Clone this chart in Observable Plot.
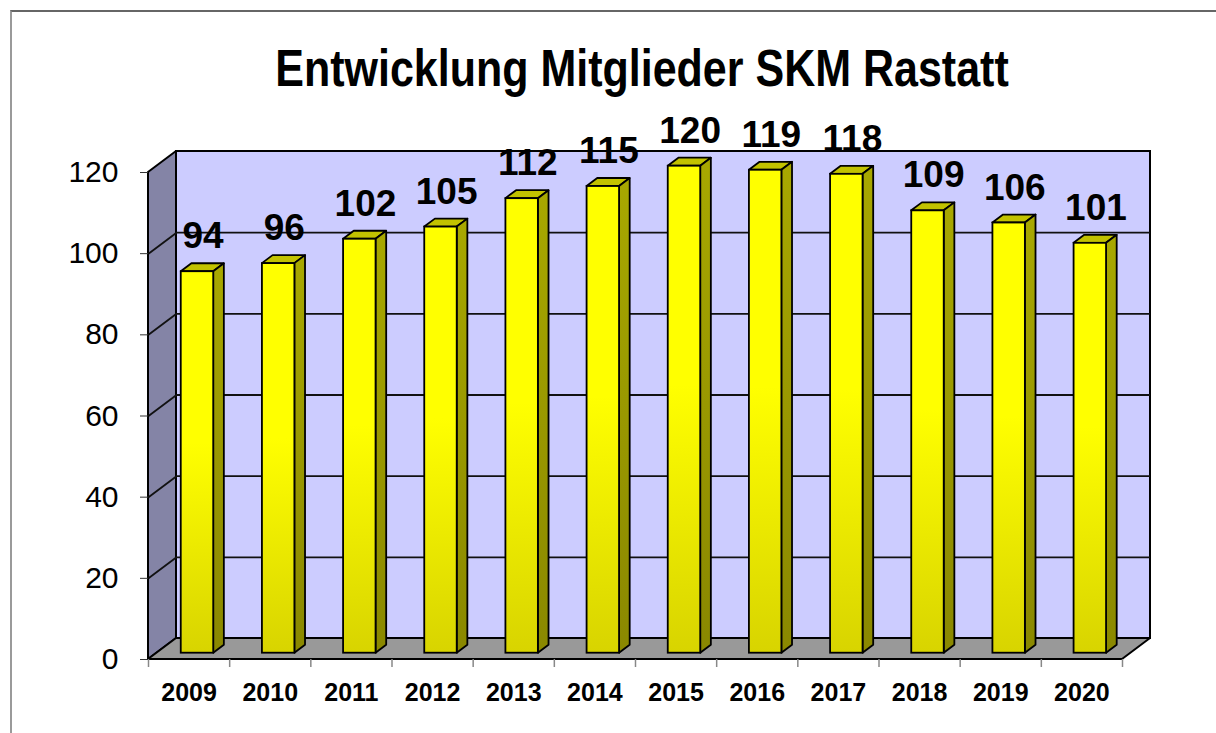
<!DOCTYPE html>
<html>
<head>
<meta charset="utf-8">
<script src="https://cdn.jsdelivr.net/npm/d3@7"></script>
<script src="https://cdn.jsdelivr.net/npm/@observablehq/plot@0.6"></script>
<style>
  html, body { margin: 0; padding: 0; background: #fff; overflow: hidden; }
  body { width: 1216px; height: 733px; position: relative; font-family: "Liberation Sans", Arial, sans-serif; }
  #frame { position: absolute; left: 10px; top: 10px; width: 1300px; height: 800px;
           border-left: 2px solid #9a9a9a; border-top: 2px solid #666; }
  #title { position: absolute; left: 0; top: 44px; width: 1284px; text-align: center;
           font-size: 43px; line-height: 43px; font-weight: bold; color: #000;
           transform: scaleY(1.19); transform-origin: 50% 5.4px; }
  #chart { position: absolute; left: 0; top: 100px; }
</style>
</head>
<body>
<div id="frame"></div>
<div id="title">Entwicklung Mitglieder SKM Rastatt</div>
<div id="chart"></div>
<script>
// ---- data ----
const years = ["2009","2010","2011","2012","2013","2014","2015","2016","2017","2018","2019","2020"];
const members = [94, 96, 102, 105, 112, 115, 120, 119, 118, 109, 106, 101];
const yTicks = [0, 20, 40, 60, 80, 100, 120];

// ---- geometry (oblique 3D projection) ----
const W = 1216, H = 633;
const mL = 148, mR = 66, mT = 51, mB = 74;
const n = years.length, yMax = 120;
const depthPx = [28, 21];
const plotW = W - mL - mR, plotH = H - mT - mB;
const DXU = depthPx[0] * n / (plotW - depthPx[0]);
const DYU = depthPx[1] * yMax / (plotH - depthPx[1]);
const t0 = 0.3, t1 = 0.68;      // bar depth (fraction of wall depth)
const b0 = 0.3, b1 = 0.7;       // bar extent within a category

const rows = members.map((v, i) => ({i, year: years[i], v}));
const front = rows.map(d => ({
  x1: d.i + b0 + t0 * DXU, x2: d.i + b1 + t0 * DXU, y1: t0 * DYU, y2: d.v + t0 * DYU
}));
const sides = rows.flatMap(d => [
  {k: d.i, x: d.i + b1 + t0 * DXU, y1: t0 * DYU, y2: d.v + t0 * DYU},
  {k: d.i, x: d.i + b1 + t1 * DXU, y1: t1 * DYU, y2: d.v + t1 * DYU}
]);
const tops = rows.flatMap(d => [
  {k: d.i, y: d.v + t0 * DYU, x1: d.i + b0 + t0 * DXU, x2: d.i + b1 + t0 * DXU},
  {k: d.i, y: d.v + t1 * DYU, x1: d.i + b0 + t1 * DXU, x2: d.i + b1 + t1 * DXU}
]);
const centers = rows.map(d => d.i + 0.5);
const bounds = d3.range(n + 1);

const chart = Plot.plot({
  width: W, height: H,
  marginLeft: mL, marginRight: mR, marginTop: mT, marginBottom: mB,
  x: {type: "linear", domain: [0, n + DXU]},
  y: {type: "linear", domain: [0, yMax + DYU]},
  style: {fontFamily: "'Liberation Sans', Arial, sans-serif", overflow: "visible", background: "transparent"},
  marks: [
    // back wall
    Plot.rect([0], {x1: DXU, x2: n + DXU, y1: DYU, y2: yMax + DYU, fill: "#ccccff", stroke: "#000", strokeWidth: 2}),
    // left wall
    Plot.areaY([{x: 0, y1: 0, y2: yMax}, {x: DXU, y1: DYU, y2: yMax + DYU}],
      {x: "x", y1: "y1", y2: "y2", fill: "#8484a6", stroke: "#000", strokeWidth: 2}),
    // gridlines
    Plot.ruleY(yTicks.slice(1, -1), {y: d => d + DYU, x1: DXU, x2: n + DXU, stroke: "#111", strokeWidth: 1.8}),
    Plot.link(yTicks.slice(1, -1), {x1: 0, y1: d => d, x2: DXU, y2: d => d + DYU, stroke: "#111", strokeWidth: 1.8}),
    // floor
    Plot.areaX([{y: 0, x1: 0, x2: n}, {y: DYU, x1: DXU, x2: n + DXU}],
      {y: "y", x1: "x1", x2: "x2", fill: "#999999", stroke: "#000", strokeWidth: 2}),
    // x ticks
    Plot.axisX({ticks: bounds, tickSize: 8, tickFormat: () => "", stroke: "#888", strokeWidth: 1.5}),
    // bars
    Plot.areaX(tops, {y: "y", x1: "x1", x2: "x2", z: "k", fill: "#c2c200", stroke: "#000", strokeWidth: 1.8, strokeLinejoin: "round"}),
    Plot.areaY(sides, {x: "x", y1: "y1", y2: "y2", z: "k", fill: "url(#sideGrad)", stroke: "#000", strokeWidth: 1.8, strokeLinejoin: "round"}),
    Plot.rect(front, {x1: "x1", x2: "x2", y1: "y1", y2: "y2", fill: "url(#barGrad)", stroke: "#000", strokeWidth: 1.8}),
    // value labels
    Plot.text(rows, {x: d => d.i + 0.5 + 0.5 * DXU, y: d => d.v + 0.5 * DYU, text: d => String(d.v),
      dy: -31, fontSize: 37, fontWeight: "bold", fill: "#000"}),
    // y axis
    Plot.axisY({ticks: yTicks, tickSize: 8, tickPadding: 22, fontSize: 30, stroke: "#333", fill: "#000", label: null}),
    // x labels
    Plot.axisX({ticks: centers, tickSize: 0, tickPadding: 24, tickFormat: d => years[Math.round(d - 0.5)],
      fontSize: 25, fontWeight: "bold", fill: "#000", label: null})
  ]
});

const defs = document.createElementNS("http://www.w3.org/2000/svg", "defs");
defs.innerHTML = `
  <linearGradient id="barGrad" x1="0" y1="0" x2="0" y2="1">
    <stop offset="0" stop-color="#ffff00"/>
    <stop offset="0.45" stop-color="#ffff00"/>
    <stop offset="1" stop-color="#d8d400"/>
  </linearGradient>
  <linearGradient id="sideGrad" x1="0" y1="0" x2="0" y2="1">
    <stop offset="0" stop-color="#a8a800"/>
    <stop offset="1" stop-color="#8a8800"/>
  </linearGradient>`;
chart.insertBefore(defs, chart.firstChild);
document.getElementById("chart").appendChild(chart);
</script>
</body>
</html>
